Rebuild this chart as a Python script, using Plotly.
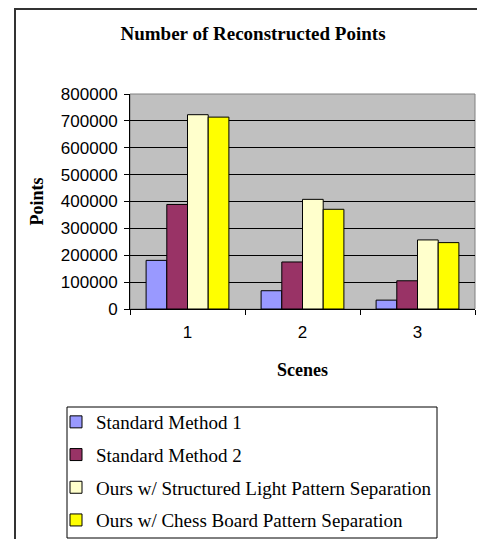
import plotly.graph_objects as go

# data
scenes = ["1", "2", "3"]
method1 = [181000, 68000, 33000]
method2 = [389000, 175000, 105000]
ours_structured = [723000, 408000, 257000]
ours_chess = [714000, 371000, 247000]

series_names = ["Standard Method 1", "Standard Method 2",
                "Ours w/ Structured Light Pattern Separation",
                "Ours w/ Chess Board Pattern Separation"]
series_values = [method1, method2, ours_structured, ours_chess]
colors = ["#9999FF", "#993366", "#FFFFCC", "#FFFF00"]

# page body has an 8px margin, so the figure is laid out in page coords - 8
OFF = 8
W, H = 485 - OFF, 539 - OFF
L, T = 130 - OFF, 94 - OFF
R = W - (475 - OFF)
B = H - (309 - OFF)
pw, ph = W - L - R, H - T - B


def px_x(x):
    return (x - OFF - L) / pw


def px_y(y):
    return (H - B - (y - OFF)) / ph


fig = go.Figure()
for i, (name, vals, c) in enumerate(zip(series_names, series_values, colors)):
    fig.add_trace(go.Bar(x=scenes, y=vals, name=name, legendgroup=str(i),
                         marker=dict(color=c, line=dict(color="black", width=1))))

serif = "Liberation Serif"
sans = "Liberation Sans"

fig.update_layout(
    width=W, height=H,
    margin=dict(l=L, r=R, t=T, b=B, autoexpand=False),
    paper_bgcolor="white",
    plot_bgcolor="#C0C0C0",
    barmode="group", bargap=0.28, bargroupgap=0,
    title=dict(text="<b>Number of Reconstructed Points</b>",
               xref="container", x=(253 - OFF) / W, xanchor="center",
               yref="container", y=1 - (33 - OFF) / H, yanchor="middle",
               font=dict(family=serif, size=19, color="black")),
    showlegend=True,
    legend=dict(x=px_x(56), y=px_y(403), xanchor="left", yanchor="top",
                font=dict(family=serif, size=19, color="black"),
                bgcolor="rgba(0,0,0,0)", borderwidth=0,
                traceorder="grouped", tracegroupgap=5),
    xaxis=dict(type="category", tickson="boundaries", ticks="outside", ticklen=5,
               tickcolor="black", showline=True, linecolor="black", linewidth=1,
               showgrid=False, ticklabelstandoff=8,
               tickfont=dict(family=sans, size=17, color="black"),
               title=dict(text="<b>Scenes</b>", standoff=21,
                          font=dict(family=serif, size=18, color="black"))),
    yaxis=dict(range=[0, 800000], dtick=100000, ticks="outside", ticklen=5,
               tickcolor="black", showline=True, linecolor="black", linewidth=1,
               showgrid=True, gridcolor="black", gridwidth=1, zeroline=False,
               tickformat="d", ticklabelstandoff=3,
               tickfont=dict(family=sans, size=17, color="black"),
               title=dict(text="<b>Points</b>", standoff=12,
                          font=dict(family=serif, size=18, color="black"))),
    shapes=[
        # gray plot-area frame
        dict(type="rect", xref="paper", yref="paper", x0=0, x1=1, y0=0, y1=1,
             line=dict(color="#808080", width=1), layer="below"),
        # legend box
        dict(type="rect", xref="paper", yref="paper",
             x0=px_x(67), x1=px_x(437), y0=px_y(538), y1=px_y(407),
             line=dict(color="black", width=1)),
        # outer chart frame (cut off at right and bottom)
        dict(type="rect", xref="paper", yref="paper",
             x0=px_x(15), x1=px_x(520), y0=px_y(580), y1=px_y(OFF + 1),
             line=dict(color="#333333", width=2)),
    ],
)

fig.write_html("out.html")
